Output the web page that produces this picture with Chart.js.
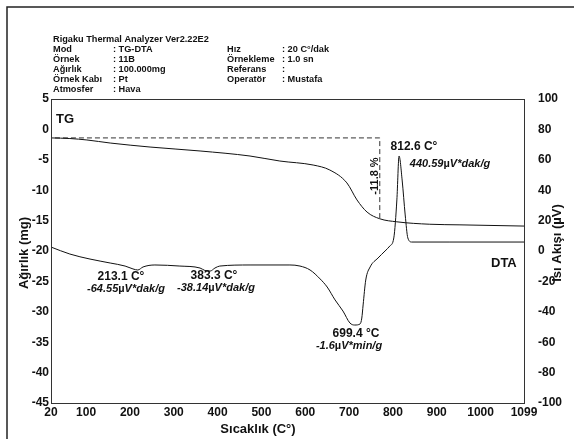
<!DOCTYPE html>
<html>
<head>
<meta charset="utf-8">
<script src="https://cdn.jsdelivr.net/npm/chart.js@4/dist/chart.umd.min.js"></script>
<style>
  html, body { margin: 0; padding: 0; background: #fff; }
  #wrap { position: relative; width: 574px; height: 439px; }
</style>
</head>
<body>
<div id="wrap"><canvas id="chart" width="574" height="439"></canvas></div>
<script>

// TG curve (left axis, mg)
const tgTemps = [20, 63, 102, 155, 246, 360, 474, 542, 618, 656, 695, 718, 741, 770, 809, 884, 953, 1099];
const tgMass  = [-1.4, -1.5, -1.74, -2.24, -2.9, -3.55, -4.38, -5.2, -5.86, -6.68, -8.8, -11.6, -13.6, -14.7, -15.2, -15.6, -15.7, -15.9];

// DTA curve (right axis, µV)
const dtaTemps = [20, 63, 109, 155, 189, 207, 218, 230, 257, 314, 360, 371, 383, 394, 405, 474, 565, 588, 611, 634, 650, 668, 686, 702, 713, 725, 729, 732, 738, 748, 766, 782, 793, 802, 809, 814, 821, 828, 834, 843, 930, 1099];
const dtaHeat  = [2.6, -2.0, -5.3, -7.9, -9.9, -11.8, -12.5, -10.5, -9.2, -9.9, -11.2, -12.8, -13.2, -11.2, -9.9, -9.2, -9.2, -9.9, -12.5, -18.4, -23.7, -32.2, -39.5, -47.4, -48.7, -48.0, -44.1, -35.5, -19.1, -10.5, -4.6, 0, 3.3, 8.6, 33.6, 62.5, 46.7, 23.7, 8.6, 5.9, 5.9, 5.9];

// dashed mass-loss marker (-11.8 %)
const dashTemps = [29, 770, 770];
const dashMass  = [-1.4, -1.4, -14.6];

// tick labels
const xTicks = [20, 100, 200, 300, 400, 500, 600, 700, 800, 900, 1000, 1099];

const FONT = '"Liberation Sans", Arial, sans-serif';

function toPoints(xs, ys) {
  return xs.map(function(x, i) { return {x: x, y: ys[i]}; });
}

// header, labels, frame and plot box
const decorations = {
  id: 'decorations',
  afterDraw: function(chart) {
    const ctx = chart.ctx;
    const a = chart.chartArea;
    ctx.save();

    // outer frame
    ctx.strokeStyle = '#222';
    ctx.lineWidth = 1.5;
    ctx.strokeRect(7, 7, 620, 500);

    // plot box
    ctx.strokeStyle = '#333';
    ctx.lineWidth = 1;
    ctx.strokeRect(Math.round(a.left) + 0.5, Math.round(a.top) + 0.5,
                   Math.round(a.right - a.left), Math.round(a.bottom - a.top));

    ctx.fillStyle = '#111';
    ctx.textBaseline = 'middle';
    ctx.textAlign = 'left';

    // header block
    ctx.font = 'bold 9.2px ' + FONT;
    ctx.fillText('Rigaku Thermal Analyzer Ver2.22E2', 53, 39);
    let left = [['Mod', ': TG-DTA'], ['Örnek', ': 11B'], ['Ağırlık', ': 100.000mg'],
                ['Örnek Kabı', ': Pt'], ['Atmosfer', ': Hava']];
    left.forEach(function(r, i) {
      ctx.fillText(r[0], 53, 49 + i * 10);
      ctx.fillText(r[1], 113, 49 + i * 10);
    });
    let right = [['Hız', ': 20 C°/dak'], ['Örnekleme', ': 1.0 sn'], ['Referans', ':'], ['Operatör', ': Mustafa']];
    right.forEach(function(r, i) {
      ctx.fillText(r[0], 227, 49 + i * 10);
      ctx.fillText(r[1], 282, 49 + i * 10);
    });

    // curve names
    ctx.font = 'bold 13px ' + FONT;
    ctx.fillText('TG', 56, 119);
    ctx.fillText('DTA', 491, 263);

    // axis titles
    ctx.font = 'bold 13px ' + FONT;
    ctx.textAlign = 'center';
    ctx.fillText('Sıcaklık (C°)', 258, 429);
    ctx.save();
    ctx.translate(24, 253);
    ctx.rotate(-Math.PI / 2);
    ctx.fillText('Ağırlık (mg)', 0, 0);
    ctx.restore();
    ctx.save();
    ctx.translate(557, 243);
    ctx.rotate(-Math.PI / 2);
    ctx.fillText('Isı Akışı (µV)', 0, 0);
    ctx.restore();

    // peak annotations
    ctx.font = 'bold 12px ' + FONT;
    ctx.fillText('213.1 C°', 121, 277);
    ctx.fillText('383.3 C°', 214, 276);
    ctx.fillText('699.4 °C', 356, 334);
    ctx.fillText('812.6 C°', 414, 147);

    drawValue(ctx, '-64.55', '*dak/g', 126, 289);
    drawValue(ctx, '-38.14', '*dak/g', 216, 288);
    drawValue(ctx, '-1.6', '*min/g', 349, 346);
    drawValue(ctx, '440.59', '*dak/g', 450, 164);

    // rotated mass loss
    ctx.font = 'bold 11px ' + FONT;
    ctx.save();
    ctx.translate(375, 176);
    ctx.rotate(-Math.PI / 2);
    ctx.textAlign = 'center';
    ctx.fillText('-11.8 %', 0, 0);
    ctx.restore();

    ctx.restore();
  }
};

// "number µV*unit" with an upright µ and italic rest, centred on cx
function drawValue(ctx, num, unit, cx, cy) {
  const it = 'italic bold 11px ' + FONT;
  const up = 'bold 11px ' + FONT;
  ctx.font = it; const w1 = ctx.measureText(num).width;
  ctx.font = up; const w2 = ctx.measureText('µ').width;
  ctx.font = it; const w3 = ctx.measureText('V' + unit).width;
  let x = cx - (w1 + w2 + w3) / 2;
  ctx.textAlign = 'left';
  ctx.font = it; ctx.fillText(num, x, cy); x += w1;
  ctx.font = up; ctx.fillText('µ', x, cy); x += w2;
  ctx.font = it; ctx.fillText('V' + unit, x, cy);
  ctx.textAlign = 'center';
}

const tickFont = {family: FONT, size: 12, weight: 'bold'};
const plain = function(v) { return String(v); };

new Chart(document.getElementById('chart'), {
  type: 'line',
  data: {
    datasets: [
      {
        data: toPoints(tgTemps, tgMass),
        yAxisID: 'y',
        borderColor: '#111', borderWidth: 1,
        pointRadius: 0, cubicInterpolationMode: 'monotone'
      },
      {
        data: toPoints(dtaTemps, dtaHeat),
        yAxisID: 'y1',
        borderColor: '#111', borderWidth: 1,
        pointRadius: 0, cubicInterpolationMode: 'monotone'
      },
      {
        data: toPoints(dashTemps, dashMass),
        yAxisID: 'y',
        borderColor: '#333', borderWidth: 1, borderDash: [5, 3],
        pointRadius: 0, tension: 0
      }
    ]
  },
  options: {
    responsive: false,
    animation: false,
    layout: {padding: {top: 99, left: 0, right: 0, bottom: 0}},
    plugins: {legend: {display: false}, tooltip: {enabled: false}},
    scales: {
      x: {
        type: 'linear', min: 20, max: 1099,
        afterBuildTicks: function(s) { s.ticks = xTicks.map(function(v) { return {value: v}; }); },
        afterFit: function(s) { s.height = 36; },
        grid: {display: false, drawTicks: false},
        border: {display: false},
        ticks: {font: tickFont, color: '#111', padding: 2, maxRotation: 0, autoSkip: false, callback: plain}
      },
      y: {
        position: 'left', min: -45, max: 5,
        afterFit: function(s) { s.width = 51; },
        grid: {display: false, drawTicks: false},
        border: {display: false},
        ticks: {stepSize: 5, font: tickFont, color: '#111', padding: 2, callback: plain}
      },
      y1: {
        position: 'right', min: -100, max: 100,
        afterFit: function(s) { s.width = 50; },
        grid: {display: false, drawTicks: false},
        border: {display: false},
        ticks: {stepSize: 20, font: tickFont, color: '#111', padding: 14, callback: plain}
      }
    }
  },
  plugins: [decorations]
});
</script>
</body>
</html>
